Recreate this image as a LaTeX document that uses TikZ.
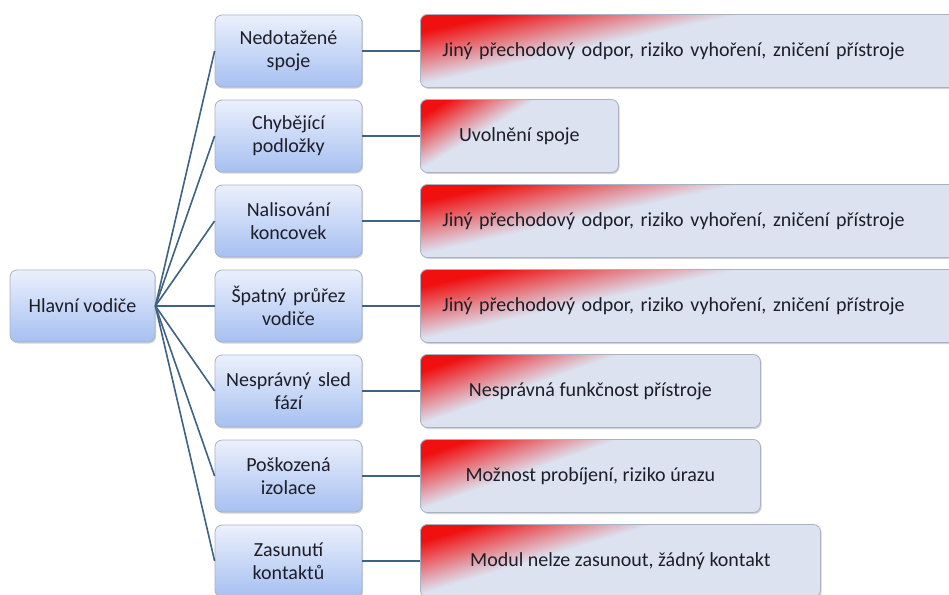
\documentclass[tikz,border=0pt]{standalone}
\usepackage{fontspec}
\setmainfont{Carlito}
\usetikzlibrary{shadows}
\definecolor{linec}{HTML}{3E6283}
\definecolor{midtop}{HTML}{EBF0FC}
\definecolor{midbot}{HTML}{A6C0F1}
\definecolor{bord}{HTML}{A8B2C4}
\definecolor{txt}{HTML}{1E1E28}
% x y in [0,100]bp; central [25,75]^2 is fitted to the box
\pgfdeclarefunctionalshading{redcorner}{\pgfpointorigin}{\pgfpoint{100bp}{100bp}}{}{
  75 exch sub 50 div 0.95 div
  exch 25 sub 50 div 0.58 div
  add
  0.25 sub 0.75 div
  dup 0 lt {pop 0} if
  dup 1 gt {pop 1} if
  dup dup
  -0.077 mul 0.94 add
  3 1 roll
  0.823 mul 0.063 add
  exch
  0.878 mul 0.063 add
}
\tikzset{
  box/.style={draw=bord, line width=0.8pt, rounded corners=7pt, text=txt, align=center,
    drop shadow={opacity=0.35, shadow xshift=1.2pt, shadow yshift=-1.5pt}},
  rootbox/.style={box, top color=midtop, bottom color=midbot, minimum width=145pt, minimum height=72pt, font=\fontsize{20}{23}\selectfont},
  midbox/.style={box, top color=midtop, bottom color=midbot, minimum width=147pt, minimum height=72pt, text width=140pt, font=\fontsize{20}{23}\selectfont},
  resbox/.style={box, shade, shading=redcorner, minimum height=73pt, anchor=west, inner xsep=22pt, font=\fontsize{20}{23}\selectfont},
  conn/.style={draw=linec, line width=1.6pt}
}
\begin{document}
\begin{tikzpicture}[x=1pt,y=-1pt]
\useasboundingbox (0,0) rectangle (949,594);
\clip (0,0) rectangle (949,594);
\node[rootbox] (root) at (82.5,306) {Hlavní vodiče};
\node[midbox] (m1) at (288.5,51) {Nedotažené\\spoje};
\node[midbox] (m2) at (288.5,136) {Chybějící\\podložky};
\node[midbox] (m3) at (288.5,221) {Nalisování\\koncovek};
\node[midbox] (m4) at (288.5,306) {Špatný průřez\\vodiče};
\node[midbox] (m5) at (288.5,391) {Nesprávný sled\\fází};
\node[midbox] (m6) at (288.5,476) {Poškozená\\izolace};
\node[midbox] (m7) at (288.5,561) {Zasunutí\\kontaktů};
\node[resbox, minimum width=545pt, text width=501pt, align=left] (r1) at (420,51) {Jiný přechodový odpor, riziko vyhoření, zničení přístroje};
\node[resbox, minimum width=198pt] (r2) at (420,136) {Uvolnění spoje};
\node[resbox, minimum width=545pt, text width=501pt, align=left] (r3) at (420,221) {Jiný přechodový odpor, riziko vyhoření, zničení přístroje};
\node[resbox, minimum width=545pt, text width=501pt, align=left] (r4) at (420,306) {Jiný přechodový odpor, riziko vyhoření, zničení přístroje};
\node[resbox, minimum width=340pt] (r5) at (420,391) {Nesprávná funkčnost přístroje};
\node[resbox, minimum width=340pt] (r6) at (420,476) {Možnost probíjení, riziko úrazu};
\node[resbox, minimum width=400pt] (r7) at (420,561) {Modul nelze zasunout, žádný kontakt};
\foreach \i in {1,...,7}{
  \draw[conn] (root.east) -- (m\i.west);
  \draw[conn] (m\i.east) -- (r\i.west);
}
\end{tikzpicture}
\end{document}
